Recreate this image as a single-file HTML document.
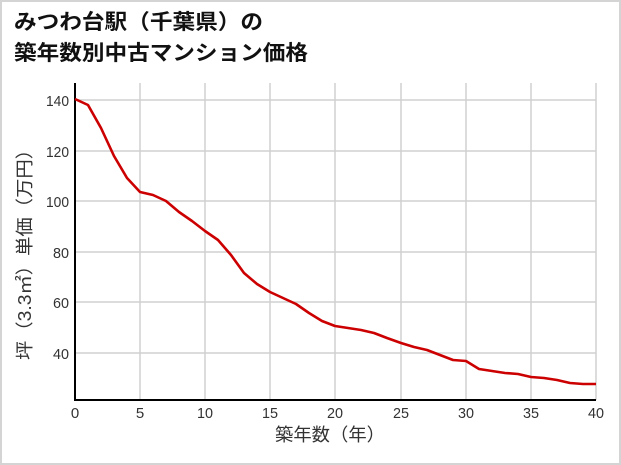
<!DOCTYPE html>
<html><head><meta charset="utf-8"><style>
body{margin:0;background:#fff;}
.w{position:relative;width:621px;height:465px;box-sizing:border-box;border:2px solid #d4d4d4;background:#fff;overflow:hidden}
</style></head><body><div class="w">
<svg width="621" height="465" style="position:absolute;left:-2px;top:-2px" font-family="'Liberation Sans','Noto Sans CJK JP',sans-serif">
<text x="14" y="29" font-size="21" font-weight="bold" fill="#111" textLength="249" lengthAdjust="spacingAndGlyphs">みつわ台駅（千葉県）の</text>
<text x="14" y="60" font-size="21" font-weight="bold" fill="#111" textLength="294" lengthAdjust="spacingAndGlyphs">築年数別中古マンション価格</text>
<g stroke="#d0d0d0" stroke-width="1.5" fill="none">
<path d="M140 83V400M205 83V400M270 83V400M335 83V400M401 83V400M466 83V400M531 83V400M596 83V400"/>
<path d="M75 100H596M75 151H596M75 201H596M75 252H596M75 302H596M75 353H596"/>
</g>
<g font-size="15" fill="#333" text-anchor="end">
<text x="69" y="106" textLength="23" lengthAdjust="spacingAndGlyphs">140</text>
<text x="69" y="157" textLength="23" lengthAdjust="spacingAndGlyphs">120</text>
<text x="69" y="207" textLength="23" lengthAdjust="spacingAndGlyphs">100</text>
<text x="69" y="258" textLength="16" lengthAdjust="spacingAndGlyphs">80</text>
<text x="69" y="308" textLength="16" lengthAdjust="spacingAndGlyphs">60</text>
<text x="69" y="359" textLength="16" lengthAdjust="spacingAndGlyphs">40</text>
</g>
<g font-size="15" fill="#333" text-anchor="middle">
<text x="75" y="418">0</text><text x="140" y="418">5</text>
<text x="205" y="418" textLength="16" lengthAdjust="spacingAndGlyphs">10</text>
<text x="270" y="418" textLength="16" lengthAdjust="spacingAndGlyphs">15</text>
<text x="335" y="418" textLength="16" lengthAdjust="spacingAndGlyphs">20</text>
<text x="401" y="418" textLength="16" lengthAdjust="spacingAndGlyphs">25</text>
<text x="466" y="418" textLength="16" lengthAdjust="spacingAndGlyphs">30</text>
<text x="531" y="418" textLength="16" lengthAdjust="spacingAndGlyphs">35</text>
<text x="596" y="418" textLength="16" lengthAdjust="spacingAndGlyphs">40</text>
<text x="330" y="441" font-size="18" textLength="110" lengthAdjust="spacingAndGlyphs">築年数（年）</text>
<text transform="translate(31,250) rotate(-90)" font-size="18" textLength="220" lengthAdjust="spacingAndGlyphs">坪（3.3㎡）単価（万円）</text>
</g>
<path d="M75 83V400H596" stroke="#000" stroke-width="2" fill="none"/>
<polyline fill="none" stroke="#cc0000" stroke-width="2.6" stroke-linejoin="round" points="75,99 88,105 101,128 114,156 127,178 140,192 153,195 166,201 179,212 192,221 205,231 218,240 231,255 244,273 257,284 270,292 283,298 296,304 309,313 322,321 335,326 348,328 361,330 374,333 387,338 401,343 414,347 427,350 440,355 453,360 466,361 479,369 492,371 505,373 518,374 531,377 544,378 557,380 570,383 583,384 596,384"/>
</svg>
</div></body></html>
